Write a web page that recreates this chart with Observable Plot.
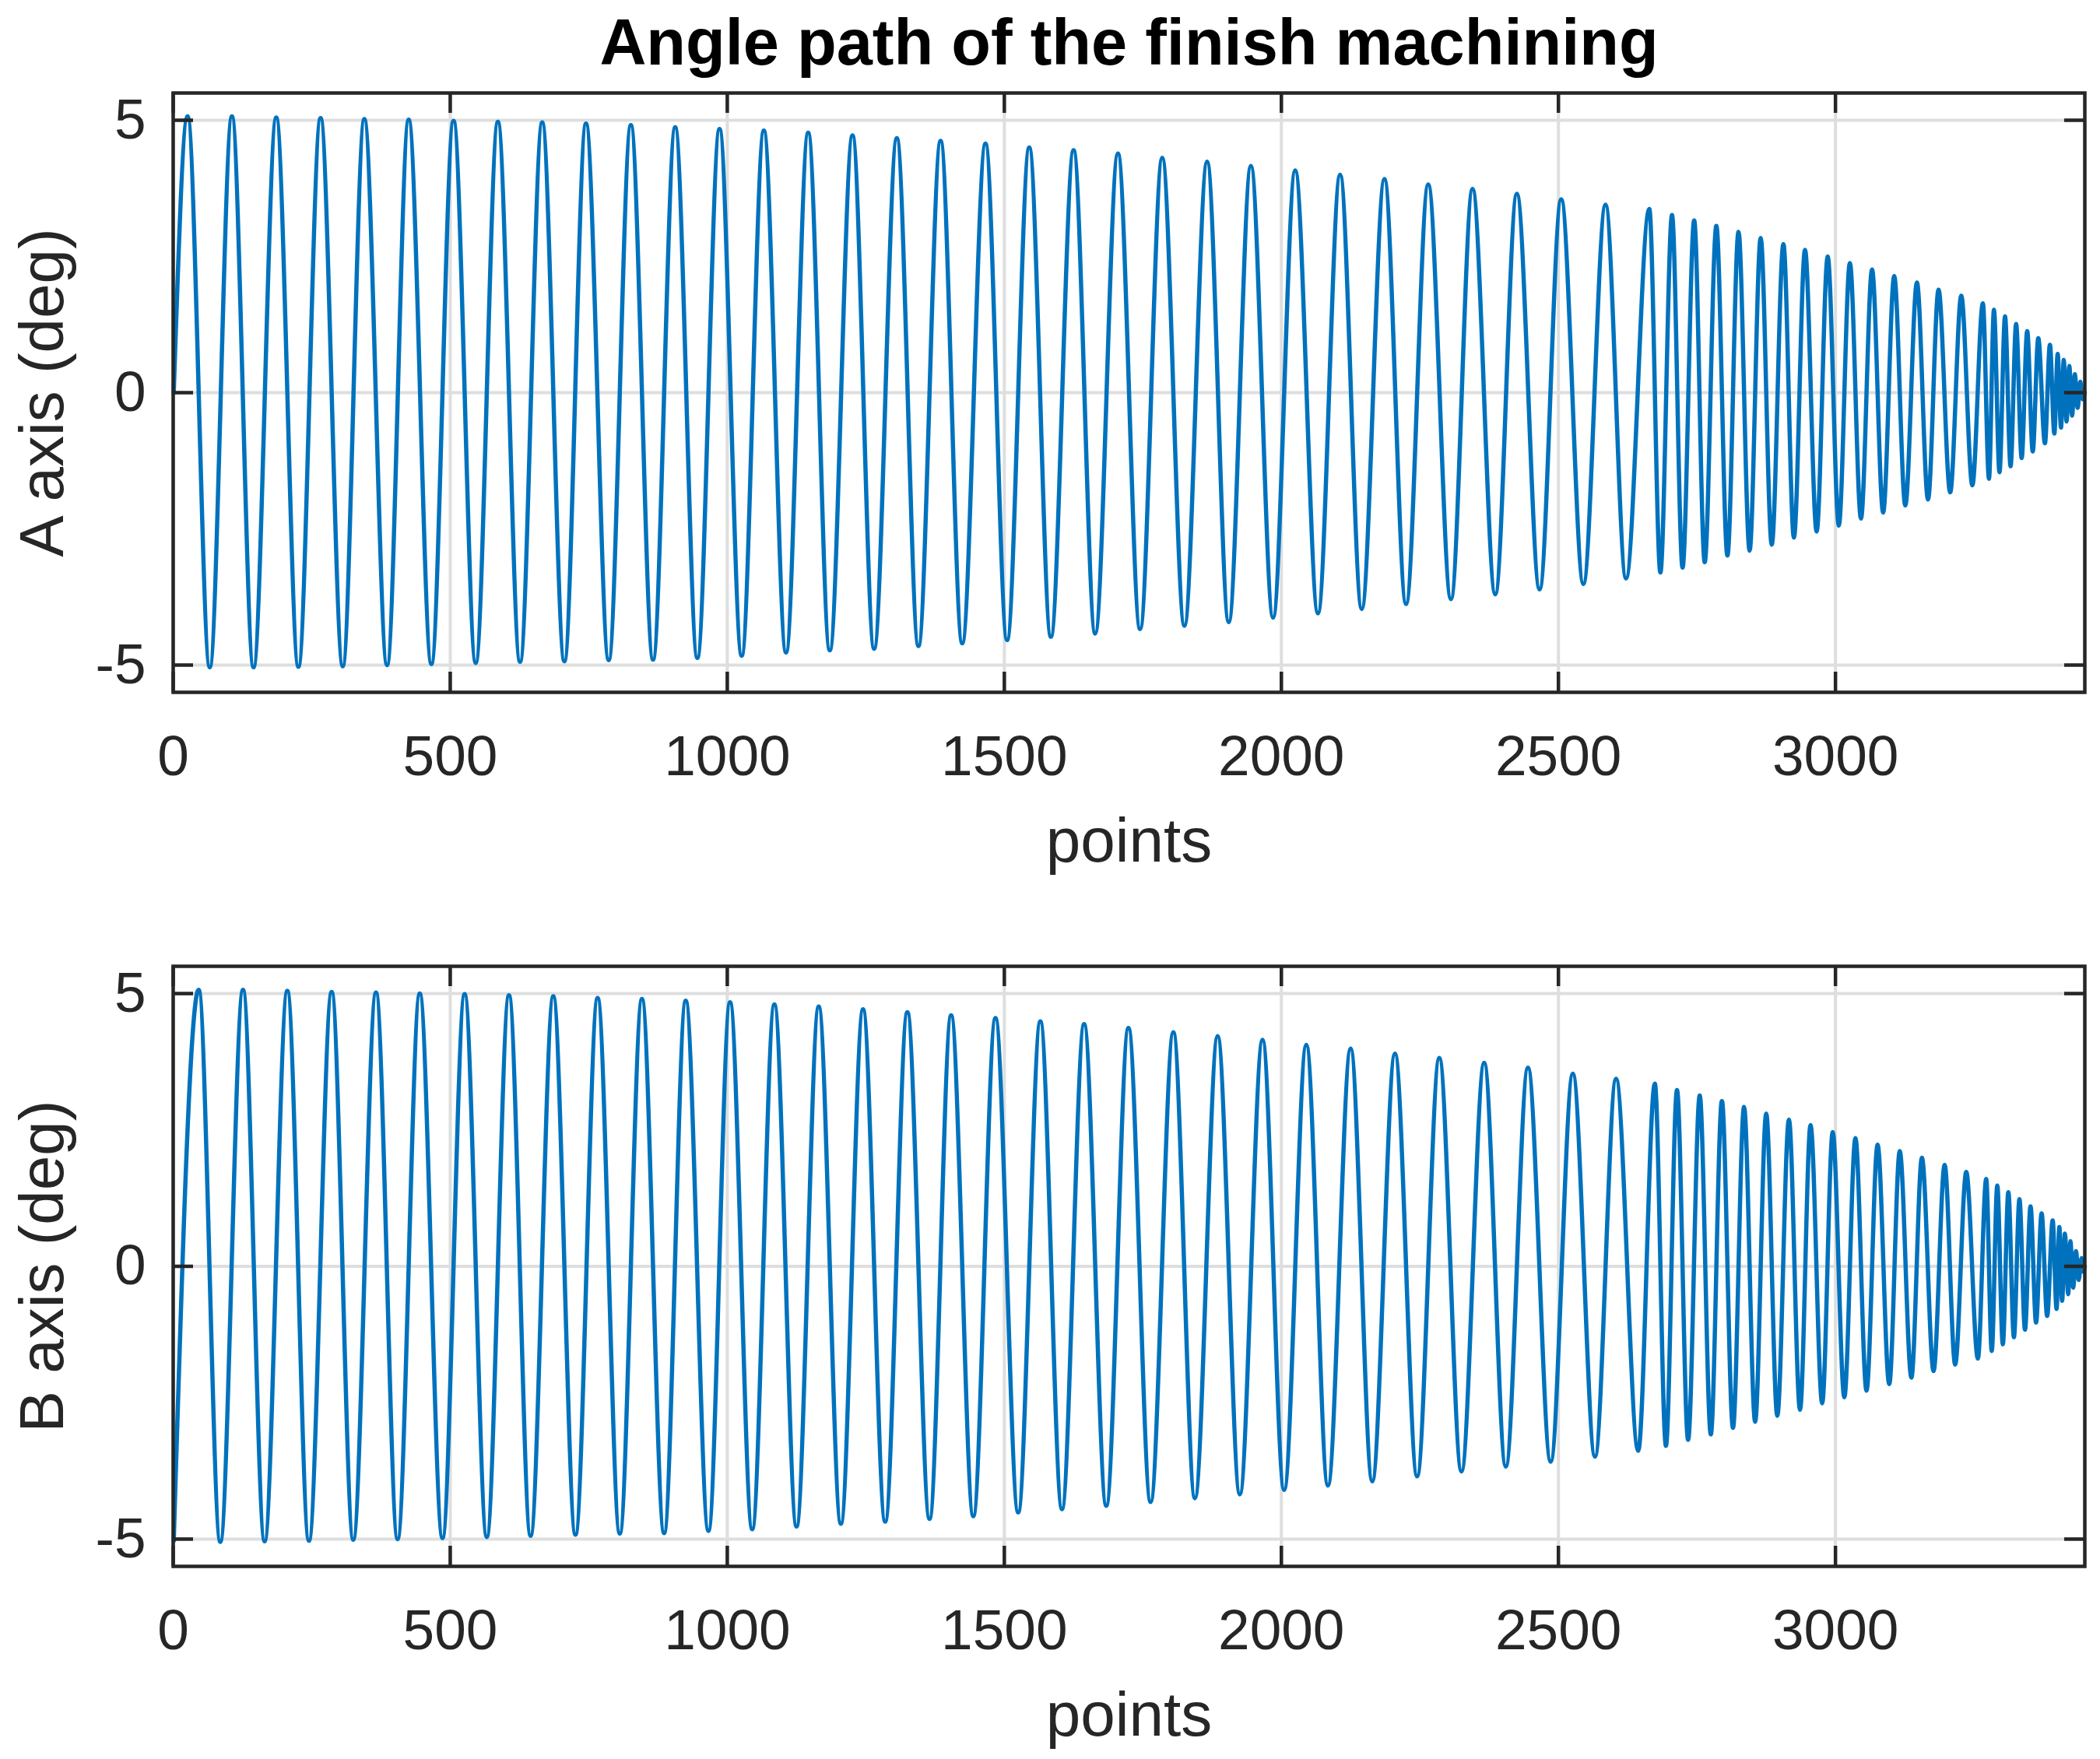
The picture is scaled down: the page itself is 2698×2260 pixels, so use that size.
<!DOCTYPE html>
<html>
<head>
<meta charset="utf-8">
<script src="https://cdn.jsdelivr.net/npm/d3@7"></script>
<script src="https://cdn.jsdelivr.net/npm/@observablehq/plot@0.6"></script>
<style>
  html, body { margin: 0; padding: 0; background: #ffffff; }
  #fig { width: 2698px; height: 2260px; background: #ffffff; }
  #fig svg { display: block; }
</style>
</head>
<body>
<div id="fig"></div>
<script>
// ---- Data (extrema) ----
const chartTitle = "Angle path of the finish machining";
const xLabel = "points";
const aLabel = "A axis (deg)";
const bLabel = "B axis (deg)";
const xTicks = [0, 500, 1000, 1500, 2000, 2500, 3000];
const yTicks = [-5, 0, 5];

// A axis: positions (points) and values (deg) of the turning points of the curve
const aX = [1, 26, 66, 106, 145, 186, 226, 266, 306, 345, 386, 425, 466, 506, 546, 586, 626, 666, 706, 745, 786, 826, 866,
  906, 946, 986, 1026, 1066, 1106, 1146, 1185, 1226, 1265, 1306, 1345, 1385, 1424, 1466, 1505, 1545, 1584, 1625, 1664, 1705, 1745,
  1785, 1825, 1866, 1905, 1945, 1985, 2025, 2066, 2106, 2145, 2186, 2225, 2265, 2306, 2345, 2386, 2425, 2466, 2505, 2545,
  2585, 2622, 2664, 2684, 2705, 2724, 2745, 2764, 2785, 2805, 2825, 2845, 2865, 2885, 2906, 2925, 2945, 2966, 2986, 3006,
  3026, 3046, 3066, 3086, 3106, 3126, 3147, 3167, 3186, 3207, 3227, 3247, 3266, 3277, 3286, 3296, 3306, 3316, 3326, 3336,
  3346, 3356, 3366, 3378, 3387, 3395, 3401, 3407, 3412, 3417, 3422, 3427, 3432, 3437, 3442, 3446, 3450];
const aY = [0.0, 5.07, -5.04, 5.07, -5.04, 5.05, -5.03, 5.04, -5.02, 5.02, -5.00, 5.01, -4.98, 4.99, -4.96, 4.97, -4.94, 4.96, -4.93, 4.94, -4.91, 4.91, -4.90,
  4.87, -4.87, 4.84, -4.83, 4.81, -4.77, 4.77, -4.73, 4.72, -4.70, 4.67, -4.65, 4.62, -4.60, 4.57, -4.54, 4.50, -4.48, 4.45, -4.42, 4.39, -4.34,
  4.31, -4.28, 4.24, -4.21, 4.16, -4.13, 4.08, -4.05, 4.00, -3.97, 3.92, -3.88, 3.82, -3.79, 3.74, -3.70, 3.65, -3.61, 3.55, -3.51,
  3.45, -3.41, 3.37, -3.30, 3.26, -3.21, 3.16, -3.11, 3.06, -2.99, 2.95, -2.90, 2.84, -2.79, 2.73, -2.66, 2.62, -2.55, 2.50, -2.44,
  2.38, -2.31, 2.26, -2.20, 2.14, -2.07, 2.02, -1.96, 1.89, -1.83, 1.78, -1.70, 1.64, -1.58, 1.52, -1.46, 1.40, -1.35, 1.26, -1.20,
  1.13, -1.08, 1.00, -0.93, 0.88, -0.75, 0.71, -0.64, 0.60, -0.53, 0.49, -0.42, 0.34, -0.28, 0.20, -0.12, 0.0];

// B axis
const bX = [1, 46, 85, 126, 165, 206, 245, 286, 325, 366, 405, 445, 486, 526, 566, 606, 645, 686, 726, 766, 806, 846, 886,
  925, 966, 1005, 1045, 1085, 1125, 1165, 1205, 1245, 1285, 1325, 1365, 1404, 1444, 1484, 1525, 1565, 1604, 1644, 1684, 1724, 1764,
  1805, 1844, 1885, 1925, 1966, 2005, 2045, 2084, 2125, 2164, 2205, 2245, 2285, 2325, 2366, 2405, 2445, 2486, 2526, 2566,
  2604, 2644, 2674, 2694, 2714, 2734, 2755, 2775, 2795, 2815, 2835, 2855, 2875, 2895, 2916, 2936, 2955, 2976, 2995, 3016,
  3036, 3056, 3076, 3097, 3116, 3137, 3156, 3177, 3197, 3216, 3236, 3257, 3272, 3282, 3292, 3302, 3312, 3322, 3332, 3342,
  3352, 3362, 3372, 3382, 3392, 3399, 3404, 3409, 3414, 3420, 3424, 3429, 3434, 3439, 3444, 3447, 3450];
const bY = [-5.03, 5.07, -5.05, 5.07, -5.04, 5.05, -5.03, 5.03, -5.01, 5.02, -5.00, 5.00, -4.98, 4.99, -4.96, 4.97, -4.94, 4.95, -4.92, 4.92, -4.90, 4.90, -4.89,
  4.87, -4.85, 4.84, -4.82, 4.80, -4.77, 4.76, -4.72, 4.71, -4.68, 4.66, -4.63, 4.60, -4.58, 4.55, -4.51, 4.49, -4.45, 4.44, -4.39, 4.37, -4.32,
  4.29, -4.25, 4.22, -4.18, 4.15, -4.10, 4.06, -4.02, 3.99, -3.94, 3.90, -3.85, 3.82, -3.76, 3.73, -3.67, 3.64, -3.58, 3.53, -3.49,
  3.44, -3.38, 3.35, -3.29, 3.23, -3.18, 3.13, -3.08, 3.03, -2.96, 2.92, -2.85, 2.80, -2.74, 2.69, -2.63, 2.59, -2.51, 2.46, -2.40,
  2.35, -2.28, 2.23, -2.16, 2.11, -2.04, 1.99, -1.92, 1.86, -1.80, 1.73, -1.69, 1.60, -1.55, 1.48, -1.43, 1.36, -1.30, 1.23, -1.16,
  1.10, -1.03, 0.97, -0.91, 0.84, -0.78, 0.72, -0.63, 0.60, -0.51, 0.46, -0.39, 0.28, -0.25, 0.15, -0.10, 0.0];

// ---- Drawing ----
const W = 2698, H = 1130;
const mL = 222, mR = 20;
const axisColor = "#262626";
const gridColor = "#dedede";
const lineColor = "#0072BD";
const fontFamily = "'Liberation Sans', Arial, Helvetica, sans-serif";
const tickLen = 26;

function panel({xs, ys, ylabel, title, marginTop, marginBottom}) {
  const data = xs.map((x, i) => ({x, y: ys[i]}));
  const fw = W - mL - mR;
  const fh = H - marginTop - marginBottom;
  const marks = [
    Plot.ruleX(xTicks, {stroke: gridColor, strokeWidth: 4}),
    Plot.ruleY(yTicks, {stroke: gridColor, strokeWidth: 4}),
    Plot.line(data, {x: "x", y: "y", curve: "monotone-x", stroke: lineColor, strokeWidth: 5.5}),
    // inward ticks on all four sides
    Plot.tickX(xTicks, {insetTop: fh - tickLen, stroke: axisColor, strokeWidth: 4.5}),
    Plot.tickX(xTicks, {insetBottom: fh - tickLen, stroke: axisColor, strokeWidth: 4.5}),
    Plot.tickY(yTicks, {insetRight: fw - tickLen, stroke: axisColor, strokeWidth: 4.5}),
    Plot.tickY(yTicks, {insetLeft: fw - tickLen, stroke: axisColor, strokeWidth: 4.5}),
    Plot.frame({stroke: axisColor, strokeWidth: 4.5}),
    // tick labels
    Plot.text(xTicks, {x: d => d, text: d => String(d), frameAnchor: "bottom", dy: 106,
      lineAnchor: "bottom", fill: axisColor, fontSize: 73}),
    Plot.text(yTicks, {y: d => d, text: d => String(d), frameAnchor: "left", dx: -35,
      textAnchor: "end", lineAnchor: "middle", fill: axisColor, fontSize: 73}),
    // axis labels
    Plot.text([xLabel], {text: d => d, frameAnchor: "bottom", dy: 217, lineAnchor: "bottom",
      textAnchor: "middle", fill: axisColor, fontSize: 80}),
    Plot.text([ylabel], {text: d => d, frameAnchor: "left", dx: -142, rotate: -90,
      textAnchor: "middle", lineAnchor: "bottom", fill: axisColor, fontSize: 80})
  ];
  if (title) {
    marks.push(Plot.text([title], {text: d => d, frameAnchor: "top", dy: -37, lineAnchor: "bottom",
      textAnchor: "middle", fill: "#000000", fontSize: 83, fontWeight: "bold"}));
  }
  return Plot.plot({
    width: W, height: H,
    marginLeft: mL, marginRight: mR, marginTop, marginBottom,
    x: {domain: [0, 3450], axis: null},
    y: {domain: [-5.5, 5.5], axis: null},
    style: {fontFamily, background: "#ffffff", overflow: "visible"},
    marks
  });
}

const fig = document.getElementById("fig");
fig.appendChild(panel({xs: aX, ys: aY, ylabel: aLabel, title: chartTitle, marginTop: 119, marginBottom: 241}));
fig.appendChild(panel({xs: bX, ys: bY, ylabel: bLabel, title: null, marginTop: 111, marginBottom: 248}));
</script>
</body>
</html>
